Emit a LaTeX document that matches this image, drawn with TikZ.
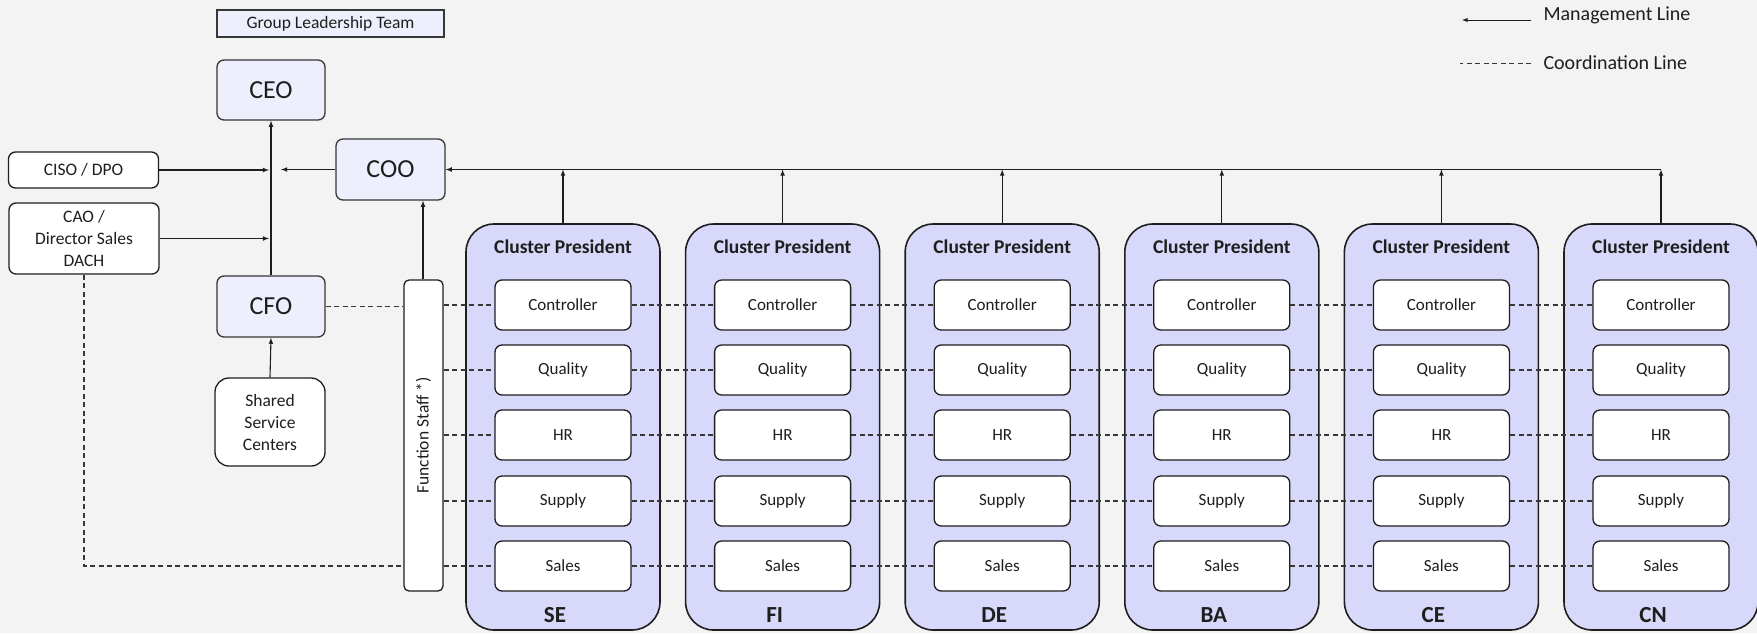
\documentclass[tikz,border=0pt]{standalone}
\usepackage{fontspec}
\setmainfont{Carlito}
\usepackage{tikz}
\usetikzlibrary{calc}

\definecolor{paper}{RGB}{242,243,242}
\definecolor{leadfill}{RGB}{237,240,252}
\definecolor{clusterfill}{RGB}{216,216,250}
\definecolor{rim}{RGB}{55,55,55}
\definecolor{ink}{RGB}{30,30,30}

\begin{document}
\begin{tikzpicture}[x=1pt,y=-1pt,text=ink,
    mgmt/.style={draw=ink,line width=1.1pt,-latex},
    coord/.style={draw=rim,line width=1.1pt,dash pattern=on 5pt off 3.5pt},
    lead/.style={draw=rim,line width=1.3pt,fill=leadfill,rounded corners=7pt,
      minimum width=108pt,minimum height=60pt,font=\fontsize{26}{30}\selectfont},
    side/.style={draw=ink,line width=1.3pt,fill=white,rounded corners=7pt,align=center,
      minimum width=150pt,font=\fontsize{17.5}{22}\selectfont},
    clusterbox/.style={draw=ink,line width=1.6pt,fill=clusterfill,rounded corners=28pt,
      minimum width=194pt,minimum height=406pt},
    unit/.style={draw=ink,line width=1.3pt,fill=white,rounded corners=7pt,
      minimum width=136pt,minimum height=50pt,font=\fontsize{17}{20}\selectfont}]

  \useasboundingbox[fill=paper] (0,0) rectangle (1757,633);

  % top of the group
  \node[draw=rim,line width=1.2pt,fill=leadfill,minimum width=227pt,minimum height=27pt,
    inner sep=0pt,font=\fontsize{17.5}{20}\selectfont] (glt) at (330.5,23.5) {Group Leadership Team};
  \node[lead] (ceo) at (271,90) {CEO};
  \node[lead,minimum width=109pt,minimum height=61pt] (coo) at (390.5,169.5) {COO};
  \node[lead,minimum height=61pt] (cfo) at (271,306.5) {CFO};

  % staff on the left
  \node[side,minimum height=36pt] (ciso) at (83.5,170) {CISO / DPO};
  \node[side,minimum height=71pt] (cao) at (84,238.5) {CAO /\\Director Sales\\DACH};
  \node[side,minimum width=110pt,minimum height=88pt,rounded corners=14pt] (ssc) at (270,422)
    {Shared\\Service\\Centers};
  \node[draw=ink,line width=1.3pt,fill=white,rounded corners=5pt,minimum width=39pt,
    minimum height=311pt] (fs) at (423.5,435.5) {};
  \node[rotate=90,font=\fontsize{17.5}{20}\selectfont] (fslabel) at (fs) {Function Staff *)};

  % clusters with their functions
  \foreach \name [count=\i from 0] in {SE,FI,DE,BA,CE,CN} {
    \pgfmathsetmacro\cx{563+219.6*\i}
    \node[clusterbox] (\name) at (\cx,427) {};
    \node[font=\bfseries\fontsize{19.5}{22}\selectfont] (\name-head) at (\cx,247) {Cluster President};
    \node[font=\bfseries\fontsize{23}{26}\selectfont] (\name-tag) at (\cx-8,615) {\name};
    \foreach \role/\ry [count=\j] in {Controller/305,Quality/370,HR/435,Supply/501,Sales/566}
      \node[unit] (\name-\j) at (\cx,\ry) {\role};
    \draw[mgmt] (\name.north) -- (\name.north |- coo.east);
  }

  % management lines
  \draw[mgmt] (CN.north |- coo.east) -- (coo.east);
  \draw[mgmt] (cfo.north) -- (ceo.south);
  \draw[mgmt,shorten >=2pt] (ciso.east) -- (cfo.north |- ciso.east);
  \draw[mgmt,shorten >=10pt] (coo.west) -- (cfo.north |- coo.west);
  \draw[mgmt,shorten >=2pt] (cao.east) -- (cfo.north |- cao.east);
  \draw[mgmt] (fs.north -| 423,0) -- (coo.south -| 423,0);
  \draw[mgmt] (ssc.north) -- (cfo.south);

  % coordination lines
  \draw[coord] (cfo.east) -- (cfo.east -| fs.west);
  \draw[coord] (cao.south) |- (fs.west |- SE-5);
  \foreach \j in {1,...,5}
    \draw[coord] (fs.east |- SE-\j) -- (SE-\j);
  \foreach \a/\b in {SE/FI,FI/DE,DE/BA,BA/CE,CE/CN}
    \foreach \j in {1,...,5}
      \draw[coord] (\a-\j) -- (\b-\j);

  % key
  \node[anchor=west,font=\fontsize{20}{22}\selectfont] (mgmtkey) at (1540,15) {Management Line};
  \node[anchor=west,font=\fontsize{20}{22}\selectfont] (coordkey) at (1540,63) {Coordination Line};
  \coordinate (mgmtend) at (1462,20);
  \coordinate (coordend) at (1460,63);
  \draw[mgmt,line width=0.9pt] (mgmtkey.west |- mgmtend) ++(-9,0) -- (mgmtend);
  \draw[coord,line width=0.9pt] (coordkey.west) ++(-9,0) -- (coordend);
\end{tikzpicture}
\end{document}
